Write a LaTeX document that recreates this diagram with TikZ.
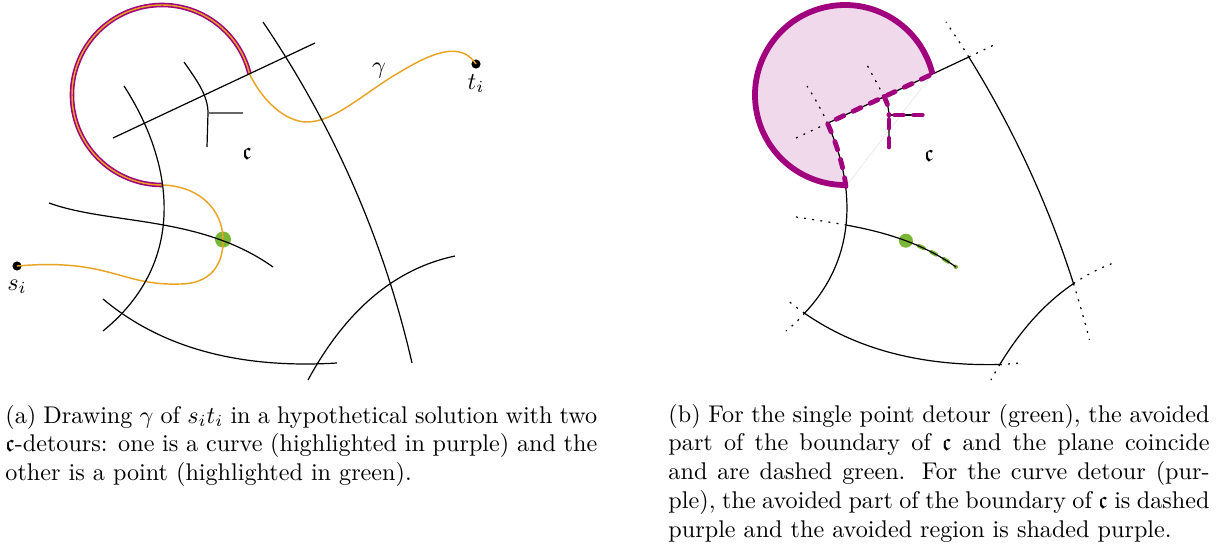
\documentclass[tikz,border=0pt]{standalone}
\usepackage{amsmath, amssymb}
\usetikzlibrary{positioning}
\definecolor{detourpurple}{RGB}{160,0,125}
\definecolor{gammaorange}{RGB}{232,163,35}
\definecolor{pointgreen}{RGB}{122,182,55}

\begin{document}
\begin{tikzpicture}[
  x=0.414pt, y=-0.414pt,
  planecurve/.style={line width=0.5pt},
  stub/.style={line width=0.5pt, dash pattern=on 0.8pt off 2.6pt},
  gammapath/.style={gammaorange, line width=0.6pt},
  terminal/.style={circle, fill, inner sep=0pt, minimum size=3.8pt},
  avoided/.style={detourpurple, line width=2pt, line cap=round, dash pattern=on 3.6pt off 4.2pt},
  avoidedpt/.style={pointgreen, line width=1.7pt, line cap=round, dash pattern=on 2.2pt off 3.6pt},
  caption/.style={anchor=base west, inner sep=0pt, align=justify}
]
\useasboundingbox (0,0) rectangle (1219,546);

% (a) drawing of gamma
\node[terminal] (si) at (17,266) {};
\node[terminal] (ti) at (476,64) {};
\coordinate (gp) at (223,239.5);
\coordinate (gtop) at (249.5,74);
\coordinate (gbot) at (162,185);

\fill[pointgreen] (gp) circle[radius=8];
\draw[detourpurple, line width=1.9pt] (gtop) arc[start angle=-13.5, end angle=-270, radius=90];
\draw[gammapath] (si.center) .. controls (110,258) and (120,286) .. (180,284)
  .. controls (210,284) and (224,265) .. (223,238)
  .. controls (222,210) and (200,186) .. (gbot)
  arc[start angle=-270, end angle=-13.5, radius=90]
  .. controls (262,100) and (285,122) .. (307,122)
  .. controls (335,122) and (365,92) .. (400,72)
  .. controls (430,54) and (460,40) .. (ti.center);

\draw[planecurve] (113,138) -- (315,43);
\draw[planecurve] (124,86) .. controls (172,160) and (190,260) .. (103,331);
\draw[planecurve] (184,62) .. controls (198,82) and (208,96) .. (208,113) -- (207,147);
\draw[planecurve, black!60] (208,113) -- (243,113);
\draw[planecurve] (263,22) .. controls (334.3,127.3) and (384,241) .. (412,363);
\draw[planecurve] (49,203) .. controls (110,225) and (200,215) .. (273,267);
\draw[planecurve] (103,299) .. controls (161,347.7) and (239,369) .. (337,363);
\draw[planecurve] (308,380) .. controls (346,310) and (395,268.7) .. (455,256);

\node[below=0pt of si] (silabel) {$s_i$};
\node[below=-1.4pt of ti] (tilabel) {$t_i$};
\node[anchor=base] (gammalabel) at (379,73) {$\gamma$};
\node (cella) at (247,154) {$\mathfrak{c}$};

% (b) the cell c and what the detours avoid
\coordinate (tl) at (827.5,123.3);
\coordinate (kn) at (884,96.5);
\coordinate (kj) at (889,115);
\coordinate (de) at (932.5,74);
\coordinate (tr) at (968.8,57);
\coordinate (br) at (1073.5,283.6);
\coordinate (bb) at (999.8,364.5);
\coordinate (bl) at (804.5,313.2);
\coordinate (ml) at (846.5,225.1);
\coordinate (dr) at (845.9,186.4);
\coordinate (pt) at (905.9,240.7);
\coordinate (ce) at (956,267);

\fill[detourpurple!15] (de) arc[start angle=-13.5, end angle=-270, radius=90]
  -- (dr) .. controls (843.2,165.1) and (836.4,143.3) .. (tl) -- cycle;
\draw[black!12, line width=0.2pt] (dr) -- (de);

\draw[stub] (tl) .. controls (821.6,110.1) and (814.8,98.1) .. (807,86)
  (tl) -- (796,138)
  (tr) -- (998,43)
  (tr) .. controls (961.5,45.2) and (953.8,33.6) .. (946,22)
  (br) .. controls (1079.3,302.3) and (1084.7,321) .. (1089.5,340)
  (br) .. controls (1086.1,275.1) and (1099.5,268.1) .. (1113.4,263)
  (bb) .. controls (996.7,369.5) and (993.9,374.6) .. (991,380)
  (bb) .. controls (1006.5,364.3) and (1013.1,363.4) .. (1020,363)
  (bl) .. controls (798.3,308.9) and (791.8,303.9) .. (786,299)
  (bl) .. controls (799.2,319.5) and (793,325.3) .. (786,331)
  (ml) .. controls (828.4,221.8) and (810.6,219.2) .. (793.5,216.6)
  (kn) -- (866,63);

\draw[planecurve] (tl) -- (tr) .. controls (1013.4,128.8) and (1048.2,204.4) .. (br)
  .. controls (1045.8,302.3) and (1021.2,329.2) .. (bb)
  .. controls (920.8,366.3) and (856,349.1) .. (bl)
  .. controls (858.4,256.5) and (854.9,184.6) .. (tl) -- cycle;
\draw[planecurve] (kn) .. controls (888,105) .. (kj) -- (889,147);
\draw[planecurve] (kj) -- (923,115);

\draw[detourpurple, line width=2.4pt] (de) arc[start angle=-13.5, end angle=-270, radius=90];
\draw[avoided] (dr) .. controls (843.2,165.1) and (836.4,143.3) .. (tl) -- (de);
\draw[avoided] (kn) .. controls (888,105) .. (kj);
\draw[avoided] (889,147) -- (kj) -- (923,115);

\fill[pointgreen] (pt) circle[radius=7];
\draw[avoidedpt] (pt) .. controls (923.1,247.1) and (939.9,255.6) .. (ce);
\draw[planecurve] (ml) .. controls (883.5,231.9) and (921.7,242.6) .. (ce);

\node (cellb) at (929,156) {$\mathfrak{c}$};

% captions
\node[caption, text width=245pt] (capa) at (5,423) {(a) Drawing $\gamma$ of $s_it_i$ in a hypothetical solution with two $\mathfrak{c}$-detours: one is a curve (highlighted in purple) and the other is a point (highlighted in green).};
\node[caption, text width=224pt] (capb) at (668,422) {(b) For the single point detour (green), the avoided\linebreak part of the boundary of $\mathfrak{c}$ and the plane coincide\linebreak and are dashed green. For the curve detour (pur-\linebreak ple), the avoided part of the boundary of $\mathfrak{c}$ is dashed\linebreak purple and the avoided region is shaded purple.};
\end{tikzpicture}
\end{document}
